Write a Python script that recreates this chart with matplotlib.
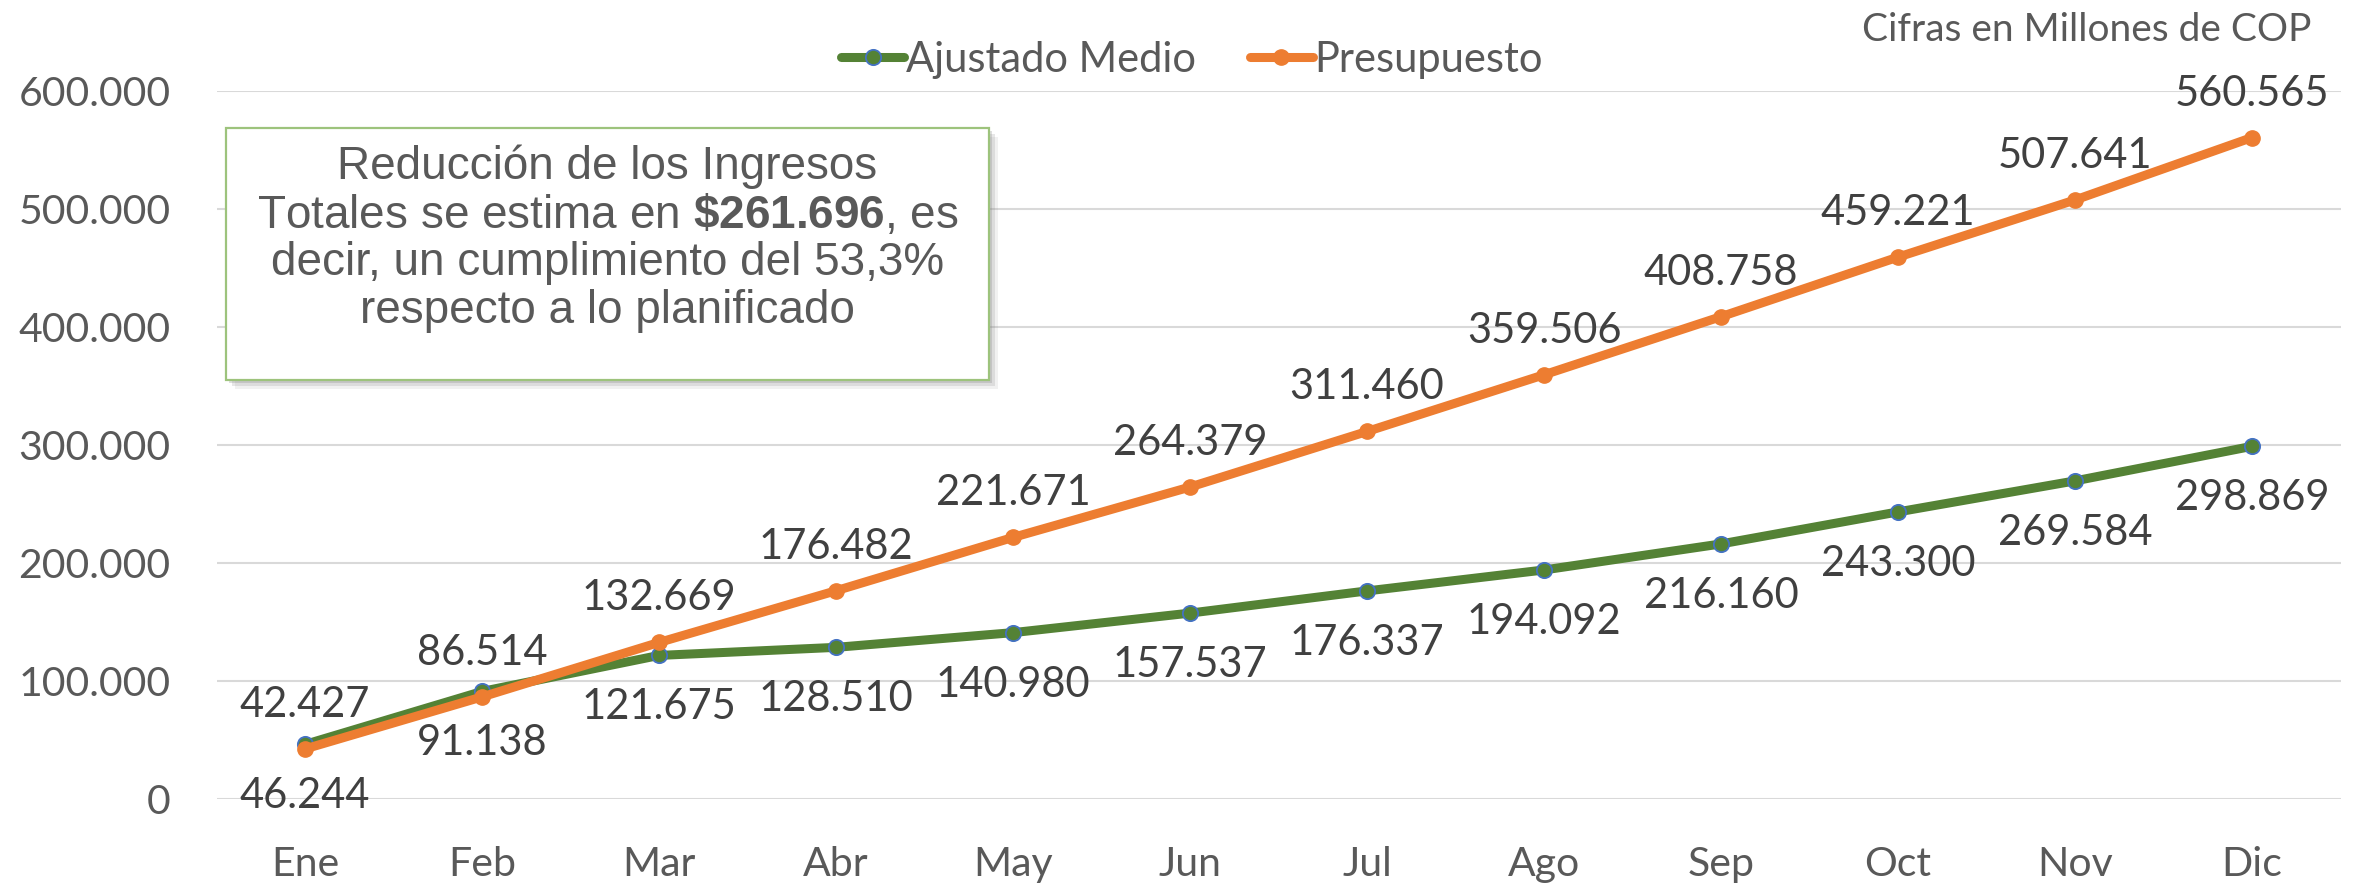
import matplotlib
matplotlib.use("Agg")
import matplotlib.pyplot as plt
from matplotlib.patches import Rectangle
from matplotlib.ticker import FuncFormatter

# Data (Cifras en Millones de COP)
months = ["Ene", "Feb", "Mar", "Abr", "May", "Jun",
          "Jul", "Ago", "Sep", "Oct", "Nov", "Dic"]
ajustado = [46244, 91138, 121675, 128510, 140980, 157537,
            176337, 194092, 216160, 243300, 269584, 298869]
presupuesto = [42427, 86514, 132669, 176482, 221671, 264379,
               311460, 359506, 408758, 459221, 507641, 560565]
y_ticks = [0, 100000, 200000, 300000, 400000, 500000, 600000]

box_lines = [
    "Reducción de los Ingresos",
    r"Totales se estima en $\mathbf{\$261.696}$, es",
    "decir, un cumplimiento del 53,3%",
    "respecto a lo planificado",
]

GREEN = "#548235"
ORANGE = "#ED7D31"
BLUE_EDGE = "#4472C4"
TICK_GRAY = "#595959"
LABEL_DARK = "#404040"

plt.rcParams["font.family"] = ["Lato", "DejaVu Sans"]
plt.rcParams["mathtext.fontset"] = "custom"
plt.rcParams["mathtext.rm"] = "Liberation Sans"
plt.rcParams["mathtext.bf"] = "Liberation Sans:bold"

W, H, DPI = 2361, 883, 100
fig = plt.figure(figsize=(W / DPI, H / DPI), dpi=DPI)
ax = fig.add_axes([216.5 / W, 84 / H, 2124 / W, 708 / H])

x = list(range(len(months)))


def fmt(v, pos=None):
    return f"{v:,.0f}".replace(",", ".")


ax.plot(x, ajustado, color=GREEN, lw=6.5, marker="o", ms=11,
        mfc=GREEN, mec=BLUE_EDGE, mew=1.3, label="Ajustado Medio", zorder=3,
        solid_capstyle="round")
ax.plot(x, presupuesto, color=ORANGE, lw=6.5, marker="o", ms=11,
        mfc=ORANGE, mec=ORANGE, label="Presupuesto", zorder=4,
        solid_capstyle="round")

# data labels: Presupuesto above, Ajustado Medio below
for i, v in enumerate(presupuesto):
    ax.annotate(fmt(v), (i, v), xytext=(0, 44), textcoords="offset pixels",
                ha="center", va="center", fontsize=30, color=LABEL_DARK,
                zorder=5)
for i, v in enumerate(ajustado):
    ax.annotate(fmt(v), (i, v), xytext=(0, -52), textcoords="offset pixels",
                ha="center", va="center", fontsize=30, color=LABEL_DARK,
                zorder=5)

ax.set_xlim(-0.5, len(months) - 0.5)
ax.set_ylim(0, 600000)
ax.set_xticks(x)
ax.set_xticklabels(months)
ax.set_yticks(y_ticks)
ax.yaxis.set_major_formatter(FuncFormatter(fmt))
ax.tick_params(axis="both", length=0, labelsize=29.5, labelcolor=TICK_GRAY)
ax.tick_params(axis="x", pad=34)
ax.tick_params(axis="y", pad=33)
ax.grid(axis="y", color="#D9D9D9", lw=1.5)
ax.set_axisbelow(True)
for s in ax.spines.values():
    s.set_visible(False)

# legend
fig.legend(loc="center", bbox_to_anchor=(0.505, 0.932), ncol=2,
           frameon=False, fontsize=30, handlelength=1.5,
           handletextpad=0.05, columnspacing=1.3, labelcolor=TICK_GRAY)

fig.text(2311 / W, 1 - 30 / H, "Cifras en Millones de COP", ha="right",
         va="center", fontsize=28, color=TICK_GRAY)

# annotation box with shadow
bx0, by0, bx1, by1 = 226, 128, 989, 380
for off, a in [(9, 0.10), (6, 0.18), (3, 0.25)]:
    fig.add_artist(Rectangle(((bx0 + off) / W, 1 - (by1 + off) / H),
                             (bx1 - bx0) / W, (by1 - by0) / H,
                             transform=fig.transFigure, facecolor="#7F7F7F",
                             edgecolor="none", alpha=a, zorder=8))
fig.add_artist(Rectangle((bx0 / W, 1 - by1 / H), (bx1 - bx0) / W,
                         (by1 - by0) / H, transform=fig.transFigure,
                         facecolor="white", edgecolor="#9DC37C", lw=1.6,
                         zorder=9))
cx = (bx0 + bx1) / 2 / W
for line, yy in zip(box_lines, [167, 215, 263, 311]):
    fig.text(cx, 1 - yy / H, line, ha="center", va="center",
             fontsize=33, color=TICK_GRAY,
             family=["Liberation Sans", "DejaVu Sans"], zorder=10)

fig.savefig("out.png", dpi=DPI)
